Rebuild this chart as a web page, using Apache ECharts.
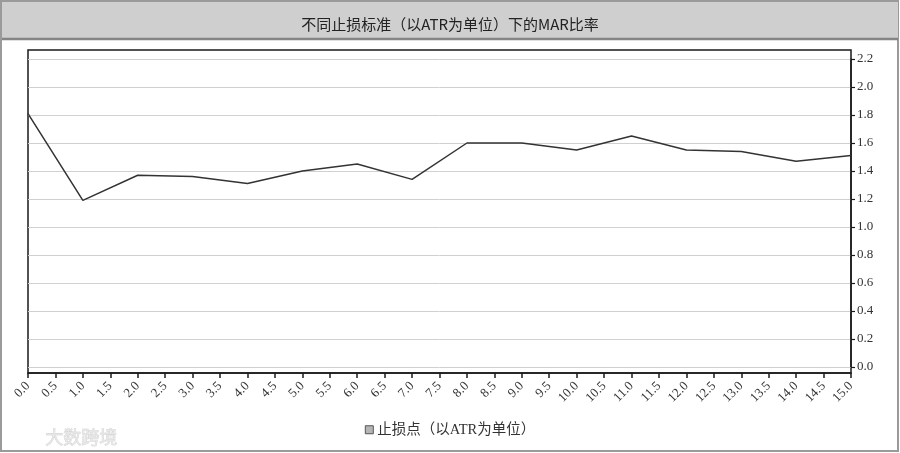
<!DOCTYPE html>
<html>
<head>
<meta charset="utf-8">
<script src="https://cdn.jsdelivr.net/npm/echarts@6/dist/echarts.min.js"></script>
<style>
html,body{margin:0;padding:0;background:#fff;}
#chart{width:900px;height:453px;}
</style>
</head>
<body>
<div id="chart"></div>
<script>
// Stop distance in ATR units (x) and MAR ratio (y)
const stopAtr = [0, 1, 2, 3, 4, 5, 6, 7, 8, 9, 10, 11, 12, 13, 14, 15];
const marRatio = [1.81, 1.19, 1.37, 1.36, 1.31, 1.40, 1.45, 1.34, 1.60, 1.60, 1.55, 1.65, 1.55, 1.54, 1.47, 1.51];
const titleText = '不同止损标准（以ATR为单位）下的MAR比率';
const seriesName = '止损点（以ATR为单位）';
const watermark = '大数跨境';

const chart = echarts.init(document.getElementById('chart'));
const serif = '"Liberation Serif", "Noto Sans CJK SC", serif';

chart.setOption({
  backgroundColor: '#fff',
  animation: false,
  graphic: [
    { type: 'rect', z: -10, shape: { x: 1, y: 1, width: 897, height: 450 },
      style: { fill: '#fff', stroke: '#9a9a9a', lineWidth: 2 } },
    { type: 'rect', z: -9, shape: { x: 2, y: 2, width: 896, height: 36 },
      style: { fill: '#cfcfcf' } },
    { type: 'line', z: -8, shape: { x1: 2, y1: 39, x2: 898, y2: 39 },
      style: { stroke: '#858585', lineWidth: 2.5 } },
    { type: 'text', left: 45, top: 428, z: -5,
      style: { text: watermark, fill: '#e6e6e6', font: '18px "Noto Sans CJK SC"', stroke: '#cccccc', lineWidth: 0.6 } }
  ],
  title: {
    text: titleText,
    left: 'center',
    top: 12,
    textStyle: { fontFamily: '"Noto Sans CJK SC", sans-serif', fontSize: 15, fontWeight: 'normal', color: '#222' }
  },
  legend: {
    bottom: 11,
    left: 'center',
    itemWidth: 8,
    itemHeight: 8,
    itemGap: 4,
    data: [{ name: seriesName, icon: 'rect',
      itemStyle: { color: '#b5b5b5', borderColor: '#555', borderWidth: 1 } }],
    textStyle: { fontFamily: serif, fontSize: 14.5, color: '#333', padding: [0, 0, 0, -1] }
  },
  grid: [
    { left: 28, right: 49, top: 59, bottom: 86 },
    { left: 28, right: 49, top: 50, bottom: 80, show: true, borderColor: '#1a1a1a', borderWidth: 1.5, backgroundColor: 'transparent' }
  ],
  xAxis: [
    {
      type: 'value', gridIndex: 0, min: 0, max: 15, interval: 0.5,
      offset: 6,
      axisLine: { show: true, onZero: false, lineStyle: { color: '#1a1a1a', width: 1.5 } },
      axisTick: { show: true, length: 5, lineStyle: { color: '#1a1a1a', width: 1.5 } },
      splitLine: { show: false },
      axisLabel: { rotate: 45, margin: 11, fontFamily: serif, fontSize: 13, color: '#333',
        formatter: v => v.toFixed(1) }
    },
    { type: 'value', gridIndex: 1, min: 0, max: 1, show: false }
  ],
  yAxis: [
    {
      type: 'value', gridIndex: 0, position: 'right', min: 0, max: 2.2, interval: 0.2,
      axisLine: { show: true, onZero: false, lineStyle: { color: '#1a1a1a', width: 1.5 } },
      axisTick: { show: true, length: 4, lineStyle: { color: '#1a1a1a', width: 1.2 } },
      splitLine: { show: true, lineStyle: { color: '#d0d0d0', width: 1 } },
      axisLabel: { margin: 6, fontFamily: serif, fontSize: 13, color: '#333',
        formatter: v => v.toFixed(1) }
    },
    { type: 'value', gridIndex: 1, min: 0, max: 1, show: false }
  ],
  series: [{
    name: seriesName,
    type: 'line',
    xAxisIndex: 0, yAxisIndex: 0,
    data: stopAtr.map((x, i) => [x, marRatio[i]]),
    symbol: 'none',
    lineStyle: { color: '#333', width: 1.5 },
    itemStyle: { color: '#333' }
  }]
});
</script>
</body>
</html>
